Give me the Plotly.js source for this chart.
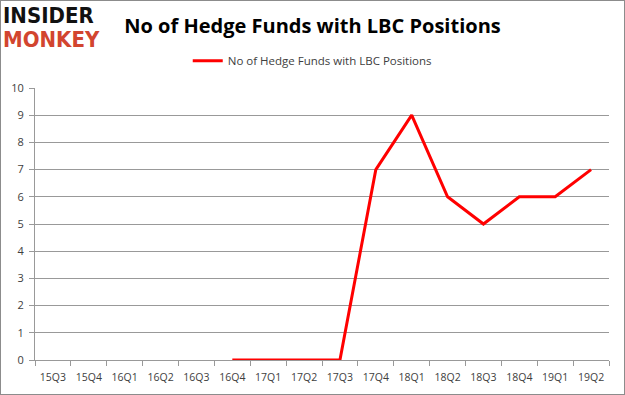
<!DOCTYPE html>
<html><head><meta charset="utf-8">
<script src="https://cdn.plot.ly/plotly-3.0.1.min.js"></script>
<style>
html,body{margin:0;padding:0;background:#fff;}
#chart{width:625px;height:395px;box-sizing:border-box;border:1px solid #8c8c8c;}
</style></head><body>
<div id="chart"></div>
<script>
const categories = ["15Q3","15Q4","16Q1","16Q2","16Q3","16Q4","17Q1","17Q2","17Q3","17Q4","18Q1","18Q2","18Q3","18Q4","19Q1","19Q2"];
const hedgeFunds = [null,null,null,null,null,0,0,0,0,7,9,6,5,6,6,7];
const seriesName = "No of Hedge Funds with LBC Positions";
const yTicks = [0,1,2,3,4,5,6,7,8,9,10];

const trace = {
  x: categories, y: hedgeFunds, type: "scatter", mode: "lines",
  name: seriesName, line: {color: "#ff0000", width: 3}, connectgaps: false
};
const layout = {
  width: 623, height: 393,
  margin: {l: 34, r: 15, t: 87, b: 34},
  paper_bgcolor: "#fff", plot_bgcolor: "#fff",
  font: {family: "Open Sans, sans-serif", size: 11, color: "#404040"},
  title: {text: "<b>No of Hedge Funds with LBC Positions</b>", x: 0.5, xref: "container", xanchor: "center",
          y: 0.936, yref: "container", yanchor: "middle",
          font: {family: "Open Sans, sans-serif", size: 20, color: "#000"}},
  showlegend: true,
  legend: {orientation: "h", x: 0.483, xanchor: "center", y: 1.1, yanchor: "middle",
           font: {size: 11.5, color: "#404040"}, itemwidth: 30},
  xaxis: {type: "category", tickvals: categories, ticktext: categories, range: [-0.5, 15.5],
          showgrid: false, showline: true, linecolor: "#999", linewidth: 1,
          ticks: "outside", tickson: "boundaries", ticklen: 5, tickcolor: "#999",
          ticklabelstandoff: 7,
          tickfont: {size: 10.5, color: "#404040"}, fixedrange: true},
  yaxis: {range: [0, 10], tickvals: yTicks, showgrid: true, gridcolor: "#999", gridwidth: 1,
          zeroline: false, showline: true, linecolor: "#999", ticks: "outside", ticklen: 5, tickcolor: "#999",
          tickfont: {size: 11, color: "#404040"}, ticklabelstandoff: 3, fixedrange: true},
  annotations: [
    {xref: "paper", yref: "paper", x: -0.058, y: 1.266, xanchor: "left", yanchor: "middle", showarrow: false,
     borderpad: 0, text: "<b>INSIDER</b>", font: {family: "DejaVu Sans Condensed, DejaVu Sans, sans-serif", size: 22, color: "#111"}},
    {xref: "paper", yref: "paper", x: -0.058, y: 1.18, xanchor: "left", yanchor: "middle", showarrow: false,
     borderpad: 0, text: "<b>MONKEY</b>", font: {family: "DejaVu Sans Condensed, DejaVu Sans, sans-serif", size: 22, color: "#d2452f"}}
  ]
};
Plotly.newPlot("chart", [trace], layout, {displayModeBar: false, staticPlot: true});
</script>
</body></html>
